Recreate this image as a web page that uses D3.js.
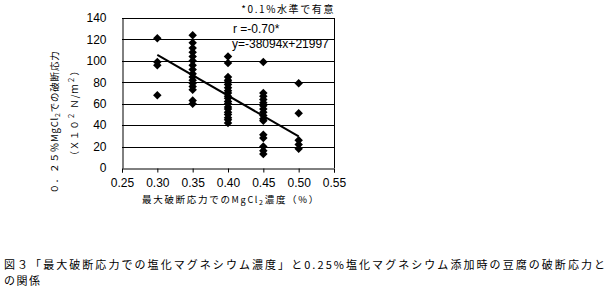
<!DOCTYPE html>
<html>
<head>
<meta charset="utf-8">
<script src="https://cdn.jsdelivr.net/npm/d3@7"></script>
<style>
  body { margin: 0; background: #fff; }
  text { fill: #000; }
  .num { font-family: "Liberation Sans", Arial, sans-serif; font-size: 12px; }
  .jp { font-family: "Noto Sans CJK JP", sans-serif; }
</style>
</head>
<body>
<script>
// MgCl2 concentration at max breaking stress (%) -> breaking stress at 0.25% MgCl2 (x10^2 N/m^2)
var conc030 = [121, 99, 96, 68];
var conc035 = [124, 117, 112, 108, 104, 100, 96, 92, 88, 85, 82, 79, 76, 73, 63, 60];
var conc040 = [104, 98, 85, 82, 80, 78, 75, 72, 70, 67, 65, 62, 60, 57, 55, 52, 50, 47, 45, 42];
var conc045 = [99, 70, 67, 64, 61, 58, 55, 52, 49, 46, 44, 31, 28, 20, 16, 13];
var conc050 = [79, 51, 26, 22, 18];
var concLevels = [0.30, 0.35, 0.40, 0.45, 0.50];
var xTicks = [0.25, 0.30, 0.35, 0.40, 0.45, 0.50, 0.55];
var yTicks = [0, 20, 40, 60, 80, 100, 120, 140];
// trend line y=-38094x+21997 (shown in chart units /100)
var trendSlope = -380.94, trendIntercept = 219.97;

var w = 610, h = 288;
var svg = d3.select("body").append("svg")
    .attr("width", w)
    .attr("height", h);

var x = d3.scaleLinear().domain([0.25, 0.55]).range([122, 334]);
var y = d3.scaleLinear().domain([0, 140]).range([168, 18]);

// flatten the columns into points
var groups = [conc030, conc035, conc040, conc045, conc050];
var points = [];
groups.forEach(function(arr, i){
    arr.forEach(function(v){ points.push({c: concLevels[i], v: v}); });
});

// gridlines
svg.selectAll(".grid")
    .data(yTicks.slice(1))
    .enter().append("line")
    .attr("x1", x(0.25)).attr("x2", x(0.55))
    .attr("y1", function(d){ return Math.round(y(d)) + 0.5; })
    .attr("y2", function(d){ return Math.round(y(d)) + 0.5; })
    .attr("stroke", "#000").attr("stroke-width", 1);

// right border
svg.append("line")
    .attr("x1", Math.round(x(0.55)) + 0.5).attr("x2", Math.round(x(0.55)) + 0.5)
    .attr("y1", y(140)).attr("y2", y(0))
    .attr("stroke", "#000");

// y axis
var yAxis = svg.append("g")
    .attr("transform", "translate(" + (Math.round(x(0.25)) + 0.5) + ",0)")
    .call(d3.axisLeft(y).tickValues(yTicks).tickSize(0).tickPadding(16));
yAxis.select(".domain").attr("stroke", "#000");
yAxis.selectAll("text").attr("class", "num").attr("font-family", null).attr("font-size", null);

// x axis
var xAxis = svg.append("g")
    .attr("transform", "translate(0," + (Math.round(y(0)) + 0.5) + ")")
    .call(d3.axisBottom(x).tickValues(xTicks).tickSize(4).tickPadding(6).tickFormat(d3.format(".2f")));
xAxis.selectAll("line, .domain").attr("stroke", "#000");
xAxis.selectAll("text").attr("class", "num").attr("font-family", null).attr("font-size", null);

// trend line
svg.append("line")
    .attr("x1", x(0.30)).attr("y1", y(trendSlope * 0.30 + trendIntercept))
    .attr("x2", x(0.50)).attr("y2", y(trendSlope * 0.50 + trendIntercept))
    .attr("stroke", "#000").attr("stroke-width", 2);

// diamond markers
var diamond = d3.symbol().type(d3.symbolSquare).size(36);
svg.selectAll(".pt")
    .data(points)
    .enter().append("path")
    .attr("d", diamond)
    .attr("transform", function(d){ return "translate(" + x(d.c) + "," + y(d.v) + ") rotate(45)"; })
    .attr("fill", "#000");

// annotations
svg.append("text").attr("class", "jp")
    .attr("x", 335).attr("y", 13).attr("font-size", 10)
    .attr("text-anchor", "end")
    .attr("letter-spacing", 1.6)
    .text("*0.1%水準で有意");
svg.append("text").attr("class", "num")
    .attr("x", 233).attr("y", 33).attr("font-size", 12)
    .text("r =-0.70*");
svg.append("text").attr("class", "num")
    .attr("x", 232).attr("y", 48).attr("font-size", 12)
    .text("y=-38094x+21997");

// x axis title
var xt = svg.append("text").attr("class", "jp")
    .attr("x", 142).attr("y", 203).attr("font-size", 9.5)
    .attr("letter-spacing", 1.7);
xt.append("tspan").text("最大破断応力での");
xt.append("tspan").attr("font-size", 9).text("MgCl");
xt.append("tspan").attr("font-size", 7).attr("dy", 2).text("2");
xt.append("tspan").attr("dy", -2).text("濃度（%）");

// y axis title (rotated)
var yt1 = svg.append("text").attr("class", "jp")
    .attr("transform", "translate(58,122) rotate(-90)")
    .attr("text-anchor", "middle").attr("font-size", 9.5)
    .attr("letter-spacing", 0.8);
yt1.append("tspan").text("０．２５％MgCl");
yt1.append("tspan").attr("font-size", 7).attr("dy", 2).text("2");
yt1.append("tspan").attr("dy", -2).text("での破断応力");

var yt2 = svg.append("text").attr("class", "jp")
    .attr("transform", "translate(78,113) rotate(-90)")
    .attr("text-anchor", "middle").attr("font-size", 9.5)
    .attr("letter-spacing", 0.8);
yt2.append("tspan").text("（Ｘ１０");
yt2.append("tspan").attr("font-size", 7).attr("dy", -4).text("２");
yt2.append("tspan").attr("dy", 4).text(" Ｎ/ｍ");
yt2.append("tspan").attr("font-size", 7).attr("dy", -4).text("２");
yt2.append("tspan").attr("dy", 4).text("）");

// caption
svg.append("text").attr("class", "jp")
    .attr("x", 4).attr("y", 268.5).attr("font-size", 11)
    .attr("textLength", 601).attr("lengthAdjust", "spacing")
    .text("図３「最大破断応力での塩化マグネシウム濃度」と0.25%塩化マグネシウム添加時の豆腐の破断応力と");
svg.append("text").attr("class", "jp")
    .attr("x", 4).attr("y", 284.5).attr("font-size", 11)
    .attr("letter-spacing", 1.5)
    .text("の関係");
</script>
</body>
</html>
